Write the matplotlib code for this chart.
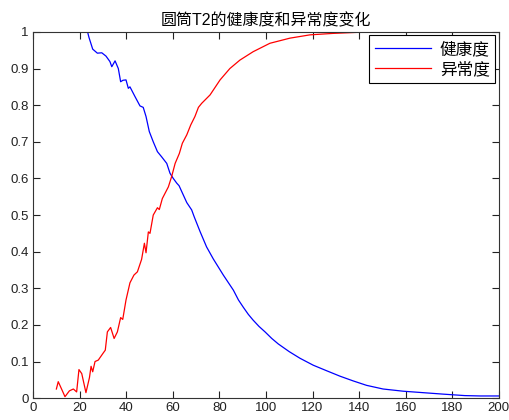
import matplotlib
matplotlib.use("Agg")
import matplotlib.pyplot as plt

plt.rcParams['font.family'] = ['Liberation Sans', 'Noto Sans CJK SC', 'DejaVu Sans']

# 健康度 (blue)
health_x = [23, 24, 24.8, 25.6, 27.6, 29.5, 31.3, 33, 33.8, 35.2, 36.6, 37.6,
            38.6, 39.9, 40.9, 41.6, 43.8, 45.9, 47.3, 48.5, 49.9, 51.6, 53.4,
            55.2, 57.4, 58.8, 60.2, 61.7, 62.7, 64.2, 66, 68.1, 69.2, 71.7,
            74.5, 77.4, 81.7, 86, 88.2, 90.3, 92.4, 94.5, 97, 99.6, 102.5, 105.3,
            110, 114.6, 120.3, 126, 131.8, 137.5, 143.2, 150.3, 158.9, 167.5,
            176.1, 185.4, 192, 200]
health_y = [1.01, 0.985, 0.969, 0.953, 0.942, 0.943, 0.934, 0.919, 0.905, 0.921,
            0.90, 0.864, 0.868, 0.869, 0.846, 0.85, 0.823, 0.798, 0.794, 0.769,
            0.728, 0.70, 0.673, 0.659, 0.641, 0.614, 0.60, 0.587, 0.58, 0.559,
            0.534, 0.514, 0.495, 0.455, 0.413, 0.38, 0.336, 0.295, 0.268, 0.248,
            0.229, 0.213, 0.196, 0.181, 0.163, 0.148, 0.127, 0.109, 0.09, 0.075,
            0.06, 0.047, 0.035, 0.025, 0.019, 0.015, 0.011, 0.007, 0.006, 0.006]

# 异常度 (red)
anomaly_x = [10, 10.8, 12.3, 13.7, 15.6, 17.3, 18.7, 19.7, 20.9, 22.7, 24.2,
             24.9, 25.6, 26.6, 28, 30.2, 31, 31.9, 33.3, 34.8, 36.2, 37.6, 38.5,
             39.9, 41.6, 43.3, 44.8, 46.6, 47.8, 48.5, 49.5, 50.2, 51.6, 53.4,
             54.2, 55.5, 58.1, 59.5, 61, 62.8, 64.1, 66, 67.7, 69.5, 71, 72.4,
             76, 80.3, 84.5, 88.8, 94.5, 101.7, 110.3, 118.9, 128.9, 140]
anomaly_y = [0.025, 0.045, 0.024, 0.004, 0.02, 0.025, 0.017, 0.078, 0.067, 0.015,
             0.056, 0.087, 0.072, 0.10, 0.104, 0.124, 0.131, 0.181, 0.193, 0.163,
             0.181, 0.22, 0.215, 0.268, 0.315, 0.336, 0.345, 0.379, 0.423, 0.397,
             0.454, 0.45, 0.5, 0.52, 0.515, 0.545, 0.577, 0.605, 0.641, 0.668,
             0.696, 0.719, 0.746, 0.769, 0.794, 0.805, 0.828, 0.869, 0.90, 0.923,
             0.946, 0.969, 0.983, 0.992, 0.996, 0.999]

fig = plt.figure(figsize=(5.09, 4.2), dpi=100)
ax = fig.add_axes([0.065, 0.052, 0.915, 0.872])

ax.plot(health_x, health_y, color="#0000ff", lw=0.9, label="健康度")
ax.plot(anomaly_x, anomaly_y, color="#ff0000", lw=0.9, label="异常度")

ax.set_xlim(0, 200)
ax.set_ylim(0, 1)
ax.set_xticks(range(0, 201, 20))
ax.set_yticks([i / 10 for i in range(11)])
ax.set_yticklabels(["0", "0.1", "0.2", "0.3", "0.4", "0.5", "0.6", "0.7",
                    "0.8", "0.9", "1"])
ax.tick_params(direction="in", top=True, right=True, length=5, width=0.8,
               labelsize=9.5, colors="#222222", pad=3)
for s in ax.spines.values():
    s.set_linewidth(0.8)
    s.set_color("#333333")

ax.set_title("圆筒T2的健康度和异常度变化", fontsize=11.5, pad=5)

leg = ax.legend(loc="upper right", fontsize=12, fancybox=False, framealpha=1,
                edgecolor="black", handlelength=3.4, borderaxespad=0.2,
                labelspacing=0.25, borderpad=0.35, handletextpad=0.5)
leg.get_frame().set_linewidth(0.8)

fig.savefig("out.png", dpi=100)
